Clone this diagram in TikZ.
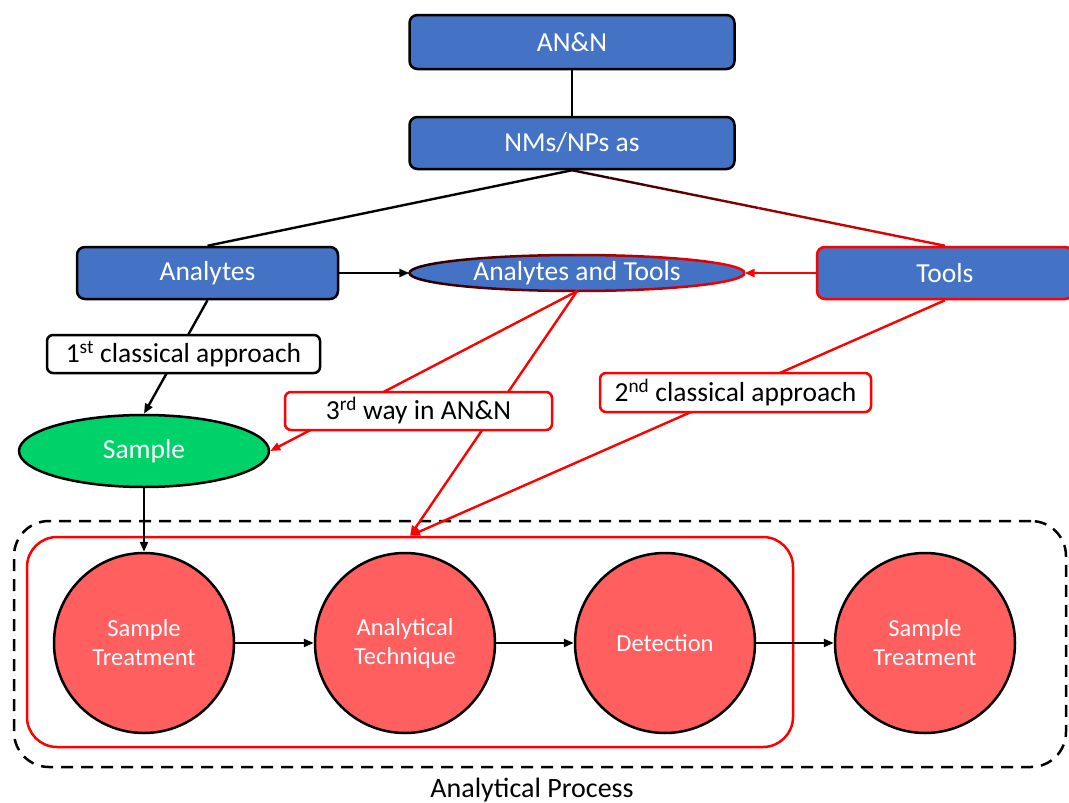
\documentclass[tikz,border=0pt]{standalone}
\usepackage{fontspec}
\setmainfont{Carlito}
\usetikzlibrary{shapes.geometric,arrows.meta,calc}
\definecolor{nblue}{HTML}{4472C4}
\definecolor{ngreen}{HTML}{00D26A}
\definecolor{ncirc}{HTML}{FF5F5F}
\definecolor{nred}{HTML}{FF0000}
\begin{document}
\begin{tikzpicture}[x=1pt,y=-1pt,
 bluebox/.style={draw=black, fill=nblue, line width=2.5pt, rounded corners=8pt, text=white, font=\fontsize{27.5}{32}\selectfont, inner sep=0pt},
 labelbox/.style={draw=black, fill=white, line width=2.5pt, rounded corners=6pt, font=\fontsize{27.5}{32}\selectfont, inner sep=0pt},
 circ/.style={circle, draw=black, fill=ncirc, line width=2.5pt, minimum size=180pt, inner sep=0pt, text=white, font=\fontsize{24.5}{29}\selectfont, align=center},
 conn/.style={line width=2.4pt},
 tip/.style={-{Triangle[length=10pt,width=8pt]}}
]
\useasboundingbox (0,0) rectangle (1069,803);
% frames
\node[draw=black, dashed, dash pattern=on 12pt off 8pt, line width=2.5pt, rounded corners=35pt, minimum width=1052pt, minimum height=246pt, inner sep=0pt] (proc) at (540,644) {};
\node[draw=nred, line width=2.5pt, rounded corners=30pt, minimum width=766pt, minimum height=210pt, inner sep=0pt] (tech) at (410,642) {};
\node[font=\fontsize{28}{32}\selectfont] (proclabel) at (532,790) {Analytical Process};
% main nodes
\node[bluebox, minimum width=325pt, minimum height=54pt] (ann) at (572,42) {AN\&N};
\node[bluebox, minimum width=325pt, minimum height=52pt] (nms) at (572,143) {NMs/NPs as};
\node[bluebox, minimum width=261pt, minimum height=52pt] (analytes) at (207.5,273) {Analytes};
\node[bluebox, draw=nred, minimum width=256pt, minimum height=52pt] (tools) at (945,273) {Tools};
\node[ellipse, fill=nblue, minimum width=335pt, minimum height=36pt, inner sep=0pt] (both) at (577,273) {};
\foreach \i in {0,...,9} {
  \pgfmathtruncatemacro\p{\i*9+15}
  \begin{scope}
    \clip (405+\i*34,250) rectangle ++(34,48);
    \draw[line width=2.5pt, color=nred!\p!black] (577,273) ellipse (167.5 and 18);
  \end{scope}
}
\node[text=white, font=\fontsize{27.5}{32}\selectfont] (bothtext) at (both) {Analytes and Tools};
\node[ellipse, draw=black, fill=ngreen, line width=2.5pt, minimum width=250pt, minimum height=72pt, inner sep=0pt, text=white, font=\fontsize{27.5}{32}\selectfont] (sample) at (144,451) {Sample};
\node[circ] (c1) at (144,643) {Sample\\Treatment};
\node[circ] (c2) at (405,643) {Analytical\\Technique};
\node[circ] (c3) at (665,643) {Detection};
\node[circ] (c4) at (925,643) {Sample\\Treatment};
% connectors
\draw[conn] (ann) -- (nms);
\draw[conn] (nms.south) -- (analytes.north);
\foreach \i in {0,...,9} {
  \pgfmathtruncatemacro\p{\i*9+15}
  \pgfmathsetmacro\a{\i/10}
  \pgfmathsetmacro\b{(\i+1)/10}
  \draw[conn, color=nred!\p!black] ($(nms.south)!\a!(tools.north)$) -- ($(nms.south)!\b!(tools.north)$);
}
\draw[conn, tip] (analytes.east) -- (both.west);
\draw[conn, tip, nred] (tools.west) -- (both.east);
\draw[conn, tip] (analytes.south) -- (sample.north);
\draw[conn, tip, nred] (both.south) -- (sample.east);
\draw[conn, tip, nred] (both.south) -- (tech.north);
\draw[conn, tip, nred] (tools.south) -- (tech.north);
\draw[conn, tip] (sample.south) -- (c1.north);
\draw[conn, tip] (c1) -- (c2);
\draw[conn, tip] (c2) -- (c3);
\draw[conn, tip] (c3) -- (c4);
% labels
\node[labelbox, minimum width=273pt, minimum height=38pt] (first) at (183.5,354) {1\textsuperscript{st} classical approach};
\node[labelbox, draw=nred, minimum width=267pt, minimum height=38pt] (third) at (418.5,411) {3\textsuperscript{rd} way in AN\&N};
\node[labelbox, draw=nred, minimum width=271pt, minimum height=39pt] (second) at (735.5,392.5) {2\textsuperscript{nd} classical approach};
\end{tikzpicture}
\end{document}
